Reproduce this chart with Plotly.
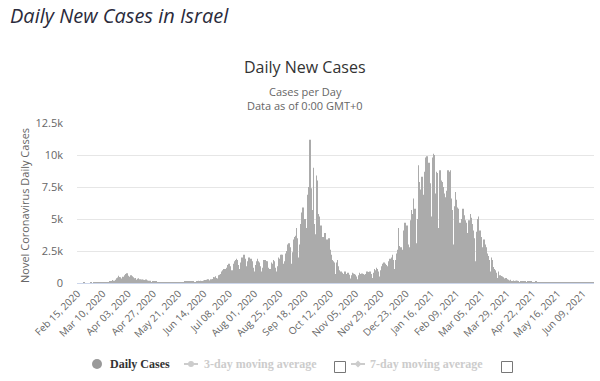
import pandas as pd
import plotly.graph_objects as go

# ---------------- data (daily new cases, Israel) ----------------
start_date = "2020-02-15"

feb_2020 = [0, 0, 0, 0, 0, 0, 1, 0, 0, 0, 0, 0, 0, 1, 0]
mar_2020 = [2, 3, 3, 5, 2, 6, 6, 13, 21, 19, 21, 33, 42, 67, 42, 58, 85, 110, 244, 168,
            178, 252, 362, 425, 573, 473, 452, 360, 485, 445, 596]
apr_2020 = [700, 765, 560, 420, 480, 600, 520, 440, 380, 390, 260, 340, 380, 300, 290,
            270, 250, 200, 230, 270, 200, 180, 160, 170, 70, 140, 130, 90, 100, 110]
may_2020 = [20, 40, 30, 25, 15, 12, 20, 18, 15, 12, 10, 30, 15, 10, 20, 15, 5, 10, 30, 25,
            15, 20, 10, 5, 30, 40, 80, 80, 90, 110, 30]
jun_2020 = [120, 110, 115, 130, 60, 60, 140, 150, 180, 150, 180, 90, 110, 190, 230, 200,
            250, 300, 180, 190, 300, 320, 460, 450, 530, 390, 350, 600, 650, 700]
jul_2020 = [900, 1000, 1100, 700, 1100, 1200, 1400, 1500, 1300, 1000, 1000, 1500, 1700,
            1800, 1900, 1800, 1400, 1100, 1600, 2000, 1900, 2200, 1900, 1300, 1100, 1700,
            2000, 1900, 1900, 1700, 1200]
aug_2020 = [900, 1400, 1700, 1900, 1700, 1600, 1300, 900, 1200, 1800, 1800, 1700, 1700,
            1200, 800, 1100, 1600, 1500, 1800, 1700, 1200, 900, 1300, 2000, 1900, 2200,
            2200, 1500, 1000, 1700, 2300]
sep_2020 = [2500, 3000, 3100, 2800, 1500, 2400, 3400, 3600, 3700, 4300, 3500, 2000, 3000,
            4600, 5500, 5900, 4800, 5000, 2900, 4300, 6900, 7500, 11200, 7400, 5700, 9000,
            4600, 3800, 8400, 8000]
oct_2020 = [5400, 5200, 4500, 3300, 3600, 3000, 3900, 2400, 3400, 1400, 3500, 2600, 2200,
            1800, 1700, 1600, 700, 1600, 1800, 1300, 1000, 900, 800, 400, 700, 900, 700,
            700, 800, 650, 350]
nov_2020 = [600, 800, 750, 700, 650, 500, 300, 600, 800, 700, 750, 700, 650, 350, 700, 900,
            800, 850, 900, 700, 400, 800, 1100, 1000, 1200, 1100, 900, 500, 1000, 1300]
dec_2020 = [1500, 1600, 1500, 1400, 800, 1300, 1700, 1900, 2000, 2200, 1800, 1100, 1800,
            2300, 2600, 4300, 2900, 2800, 1800, 2600, 4100, 4700, 4400, 4500, 3000, 2800,
            4900, 5700, 5400, 6600, 5800]
jan_2021 = [5800, 3100, 5000, 9200, 7900, 7300, 8300, 6900, 4100, 8700, 9800, 9900, 8300,
            9400, 7800, 5200, 9800, 10100, 10000, 7000, 8700, 8600, 4300, 8800, 8000, 7900,
            7500, 7000, 6700, 3600, 7200]
feb_2021 = [8800, 8700, 8800, 6600, 5700, 3000, 6000, 7100, 6500, 5900, 5800, 4700, 2400,
            5000, 5800, 5300, 4900, 4700, 3900, 2000, 4900, 5400, 5100, 4600, 4100, 3500,
            1700, 4000]
mar_2021 = [5000, 5200, 4100, 3600, 2800, 1500, 3400, 3000, 2800, 2300, 2100, 1800, 900,
            2000, 1800, 1250, 1100, 1000, 800, 400, 900, 600, 550, 500, 450, 350, 200, 400,
            300, 250, 200]
apr_2021 = [250, 150, 80, 200, 150, 180, 200, 170, 120, 60, 150, 130, 110, 90, 100, 60, 40,
            140, 130, 100, 80, 70, 50, 30, 110, 90, 70, 60, 60, 40]
may_2021 = [20, 50, 60, 40, 45, 50, 35, 15, 40, 30, 35, 30, 25, 10, 20, 40, 30, 25, 20, 15,
            10, 30, 25, 20, 15, 20, 15, 5, 10, 20, 15]
jun_2021 = [10, 15, 12, 8, 5, 10, 12, 10, 8, 6, 5, 3, 10, 8, 12, 10, 6, 5, 10]

daily_cases = (feb_2020 + mar_2020 + apr_2020 + may_2020 + jun_2020 + jul_2020 + aug_2020
               + sep_2020 + oct_2020 + nov_2020 + dec_2020 + jan_2021 + feb_2021 + mar_2021
               + apr_2021 + may_2021 + jun_2021)

dates = [d.strftime("%b %d, %Y") for d in pd.date_range(start_date, periods=len(daily_cases))]

x_tick_labels = ["Feb 15, 2020", "Mar 10, 2020", "Apr 03, 2020", "Apr 27, 2020",
                 "May 21, 2020", "Jun 14, 2020", "Jul 08, 2020", "Aug 01, 2020",
                 "Aug 25, 2020", "Sep 18, 2020", "Oct 12, 2020", "Nov 05, 2020",
                 "Nov 29, 2020", "Dec 23, 2020", "Jan 16, 2021", "Feb 09, 2021",
                 "Mar 05, 2021", "Mar 29, 2021", "Apr 22, 2021", "May 16, 2021",
                 "Jun 09, 2021"]
y_tick_values = [0, 2500, 5000, 7500, 10000, 12500]
y_tick_labels = ["0", "2.5k", "5k", "7.5k", "10k", "12.5k"]

# ---------------- layout geometry ----------------
W_PX, H_PX = 600, 381
L, R, T, B = 77, 6, 123, 98
PW = W_PX - L - R
PH = H_PX - T - B


def px(x):
    return (x - L) / PW


def py(y):
    return (H_PX - B - y) / PH


fig = go.Figure()
fig.add_trace(go.Bar(
    x=dates, y=daily_cases,
    marker=dict(color="#ababab", line=dict(width=0)),
    name="Daily Cases", showlegend=False,
))

FONT = "Open Sans, Arial, sans-serif"

fig.update_layout(
    width=W_PX, height=H_PX,
    margin=dict(l=L, r=R, t=T, b=B, autoexpand=False),
    paper_bgcolor="white", plot_bgcolor="white",
    bargap=0.5,
    showlegend=False,
    font=dict(family=FONT, color="#666666", size=11),
    xaxis=dict(
        type="category",
        range=[-0.5, len(daily_cases) - 0.5],
        tickmode="array",
        tickvals=x_tick_labels,
        ticktext=x_tick_labels,
        tickangle=-45,
        tickfont=dict(size=10, color="#666666"),
        showgrid=False,
        showline=True, linecolor="#ccd6eb", linewidth=1,
        ticks="", zeroline=False, automargin=False,
    ),
    yaxis=dict(
        range=[0, 12500],
        tickmode="array",
        tickvals=y_tick_values,
        ticktext=y_tick_labels,
        tickfont=dict(size=11, color="#666666"),
        showgrid=True, gridcolor="#e6e6e6", gridwidth=1,
        zeroline=False, ticks="", automargin=False,
        ticklabelstandoff=13,
    ),
)

annotations = [
    dict(text="<i>Daily New Cases in Israel</i>", x=px(8), y=py(15), xanchor="left",
         yanchor="middle", font=dict(size=20, color="#2b2b3b", family=FONT)),
    dict(text="Daily New Cases", x=px(305), y=py(67), xanchor="center", yanchor="middle",
         font=dict(size=16, color="#333333", family=FONT)),
    dict(text="Cases per Day", x=px(305), y=py(92), xanchor="center", yanchor="middle",
         font=dict(size=11, color="#666666", family=FONT)),
    dict(text="Data as of 0:00 GMT+0", x=px(305), y=py(105), xanchor="center",
         yanchor="middle", font=dict(size=11, color="#666666", family=FONT)),
    dict(text="Novel Coronavirus Daily Cases", x=px(24), y=py(206), xanchor="center",
         yanchor="middle", textangle=-90, font=dict(size=11, color="#666666", family=FONT)),
    dict(text="<b>Daily Cases</b>", x=px(108), y=py(364), xanchor="left", yanchor="middle",
         font=dict(size=12, color="#333333", family="Liberation Serif, serif")),
    dict(text="<b>3-day moving average</b>", x=px(202), y=py(364), xanchor="left",
         yanchor="middle", font=dict(size=12, color="#cccccc", family="Liberation Serif, serif")),
    dict(text="<b>7-day moving average</b>", x=px(368), y=py(364), xanchor="left",
         yanchor="middle", font=dict(size=12, color="#cccccc", family="Liberation Serif, serif")),
]
for a in annotations:
    a.update(xref="paper", yref="paper", showarrow=False)
fig.update_layout(annotations=annotations)

shapes = [
    dict(type="circle", x0=px(92), x1=px(102), y0=py(369), y1=py(359),
         fillcolor="#999999", line=dict(width=0)),
    dict(type="line", x0=px(184), x1=px(198), y0=py(364), y1=py(364),
         line=dict(color="#cccccc", width=2)),
    dict(type="circle", x0=px(188), x1=px(194), y0=py(367), y1=py(361),
         fillcolor="#cccccc", line=dict(width=0)),
    dict(type="line", x0=px(351), x1=px(365), y0=py(364), y1=py(364),
         line=dict(color="#cccccc", width=2)),
    dict(type="path", path="M {0},{1} L {2},{3} L {4},{1} L {2},{5} Z".format(
        px(354.5), py(364), px(358), py(360.5), px(361.5), py(367.5)),
         fillcolor="#cccccc", line=dict(width=0)),
    dict(type="rect", x0=px(334.5), x1=px(345.5), y0=py(372.5), y1=py(361.5),
         line=dict(color="#777777", width=1), fillcolor="white"),
    dict(type="rect", x0=px(501.5), x1=px(512.5), y0=py(372.5), y1=py(361.5),
         line=dict(color="#777777", width=1), fillcolor="white"),
]
for s in shapes:
    s.update(xref="paper", yref="paper")
fig.update_layout(shapes=shapes)

# remove the browser's default 8px page margin so the figure sits at the page origin
fig.write_html("out.html", config={"displayModeBar": False},
               post_script="document.body.style.margin='0px';")
